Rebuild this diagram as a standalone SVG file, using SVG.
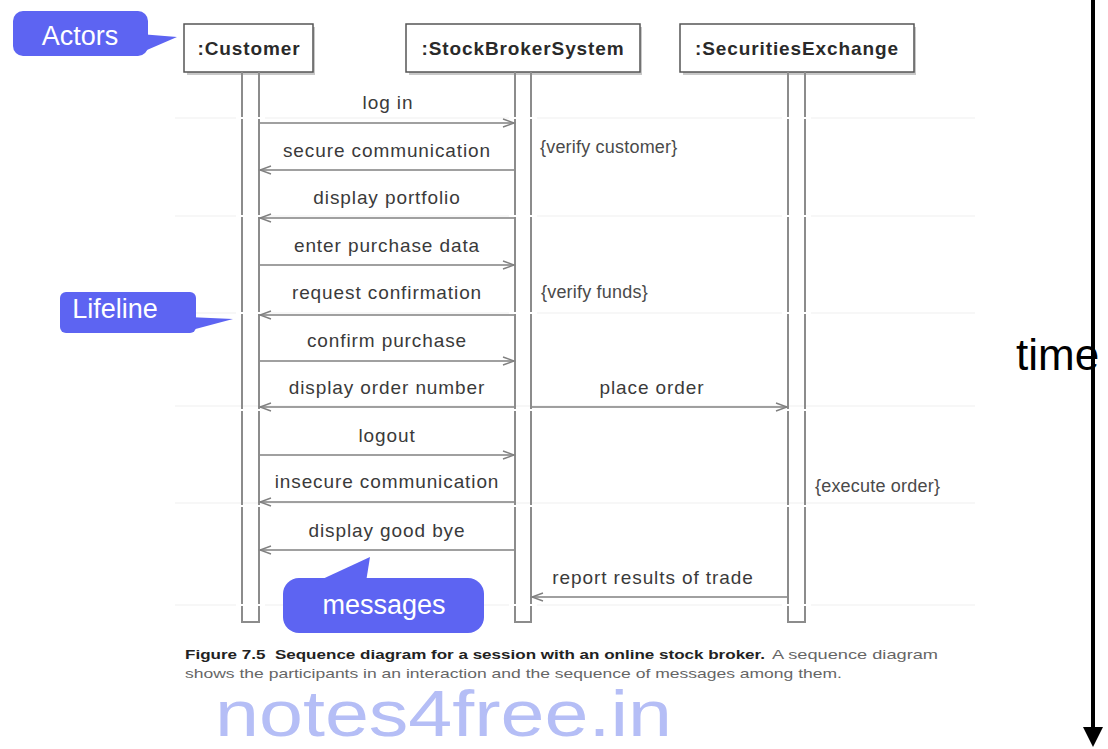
<svg xmlns="http://www.w3.org/2000/svg" width="1108" height="749" viewBox="0 0 1108 749">
<style>
.box{fill:#fff;stroke:#555;stroke-width:1.5}
.shadow{fill:#c8c8c8}
.bt{font-family:"Liberation Sans",Arial,sans-serif;font-size:19px;font-weight:bold;letter-spacing:0.9px;fill:#2a2a2a;text-anchor:middle}
.life{fill:none;stroke:#8c8c8c;stroke-width:2}
.msg{stroke:#808080;stroke-width:1.4;fill:none;marker-end:url(#open)}
.ml{font-family:"Liberation Sans",Arial,sans-serif;font-size:19px;letter-spacing:0.9px;fill:#3a3a3a;text-anchor:middle}
.note{font-family:"Liberation Sans",Arial,sans-serif;font-size:18px;letter-spacing:0.2px;fill:#4a4a4a}
.faint{stroke:#efefef;stroke-width:1}
.gap{stroke:#fff;stroke-width:2}
.call{fill:#5d64f2}
.ct{font-family:"Liberation Sans",Arial,sans-serif;font-size:27px;fill:#fff;text-anchor:middle}
.cap{font-family:"Liberation Sans",Arial,sans-serif;font-size:13.5px}
</style>
<defs>
<marker id="open" markerUnits="userSpaceOnUse" markerWidth="14" markerHeight="12" viewBox="0 0 14 12" refX="12" refY="6" orient="auto">
<path d="M1,2 L12,6 L1,10" fill="none" stroke="#808080" stroke-width="1.4"/>
</marker>
</defs>
<rect width="1108" height="749" fill="#fff"/>

<g id="faint-lines">
<line class="faint" x1="175" y1="118" x2="975" y2="118"/>
<line class="faint" x1="175" y1="216" x2="975" y2="216"/>
<line class="faint" x1="175" y1="313" x2="975" y2="313"/>
<line class="faint" x1="175" y1="406" x2="975" y2="406"/>
<line class="faint" x1="175" y1="503" x2="975" y2="503"/>
<line class="faint" x1="175" y1="605" x2="975" y2="605"/>
</g>

<g id="customer">
<rect class="shadow" x="187" y="27" width="128" height="48"/>
<rect class="box" x="184" y="24" width="129" height="48"/>
<text class="bt" x="249" y="55">:Customer</text>
<path class="life" d="M242,72 V622 H259 V72"/>
</g>
<g id="stockbroker">
<rect class="shadow" x="409" y="27" width="233" height="48"/>
<rect class="box" x="406" y="24" width="234" height="48"/>
<text class="bt" x="523" y="55">:StockBrokerSystem</text>
<path class="life" d="M515,72 V622 H531 V72"/>
</g>
<g id="exchange">
<rect class="shadow" x="683" y="27" width="233" height="48"/>
<rect class="box" x="680" y="24" width="234" height="48"/>
<text class="bt" x="797" y="55">:SecuritiesExchange</text>
<path class="life" d="M788,72 V622 H805 V72"/>
</g>

<g id="gaps">
<line class="gap" x1="236" y1="118" x2="265" y2="118"/>
<line class="gap" x1="509" y1="118" x2="537" y2="118"/>
<line class="gap" x1="782" y1="118" x2="811" y2="118"/>
<line class="gap" x1="236" y1="216" x2="265" y2="216"/>
<line class="gap" x1="509" y1="216" x2="537" y2="216"/>
<line class="gap" x1="782" y1="216" x2="811" y2="216"/>
<line class="gap" x1="236" y1="313" x2="265" y2="313"/>
<line class="gap" x1="509" y1="313" x2="537" y2="313"/>
<line class="gap" x1="782" y1="313" x2="811" y2="313"/>
<line class="gap" x1="236" y1="410" x2="265" y2="410"/>
<line class="gap" x1="509" y1="410" x2="537" y2="410"/>
<line class="gap" x1="782" y1="410" x2="811" y2="410"/>
<line class="gap" x1="236" y1="506" x2="265" y2="506"/>
<line class="gap" x1="509" y1="506" x2="537" y2="506"/>
<line class="gap" x1="782" y1="506" x2="811" y2="506"/>
<line class="gap" x1="236" y1="605" x2="265" y2="605"/>
<line class="gap" x1="509" y1="605" x2="537" y2="605"/>
<line class="gap" x1="782" y1="605" x2="811" y2="605"/>
</g>

<g id="connectors">
<line class="msg" x1="260" y1="123" x2="514" y2="123"/>
<line class="msg" x1="514" y1="170" x2="260" y2="170"/>
<line class="msg" x1="514" y1="218" x2="260" y2="218"/>
<line class="msg" x1="260" y1="265" x2="514" y2="265"/>
<line class="msg" x1="514" y1="315" x2="260" y2="315"/>
<line class="msg" x1="260" y1="361" x2="514" y2="361"/>
<line class="msg" x1="514" y1="407" x2="260" y2="407"/>
<line class="msg" x1="532" y1="407" x2="787" y2="407"/>
<line class="msg" x1="260" y1="455" x2="514" y2="455"/>
<line class="msg" x1="514" y1="502" x2="260" y2="502"/>
<line class="msg" x1="514" y1="550" x2="260" y2="550"/>
<line class="msg" x1="787" y1="597" x2="532" y2="597"/>
</g>

<g id="labels">
<text class="ml" x="388" y="109">log in</text>
<text class="ml" x="387" y="157">secure communication</text>
<text class="ml" x="387" y="204">display portfolio</text>
<text class="ml" x="387" y="252">enter purchase data</text>
<text class="ml" x="387" y="299">request confirmation</text>
<text class="ml" x="387" y="347">confirm purchase</text>
<text class="ml" x="387" y="394">display order number</text>
<text class="ml" x="652" y="394">place order</text>
<text class="ml" x="387" y="442">logout</text>
<text class="ml" x="387" y="488">insecure communication</text>
<text class="ml" x="387" y="537">display good bye</text>
<text class="ml" x="653" y="584">report results of trade</text>
<text class="note" x="540" y="153">{verify customer}</text>
<text class="note" x="541" y="298">{verify funds}</text>
<text class="note" x="815" y="492">{execute order}</text>
</g>

<g id="actors-callout">
<rect class="call" x="13" y="11" width="135" height="45" rx="10"/>
<polygon class="call" points="140,34 177,37 140,53"/>
<text class="ct" x="80" y="45">Actors</text>
</g>
<g id="lifeline-callout">
<rect class="call" x="60" y="292" width="136" height="41" rx="6"/>
<polygon class="call" points="188,317 233,319 188,331"/>
<text class="ct" x="115" y="318">Lifeline</text>
</g>
<g id="messages-callout">
<rect class="call" x="283" y="578" width="201" height="55" rx="16"/>
<polygon class="call" points="316,582 370,557 366,582"/>
<text class="ct" x="384" y="614" font-size="28">messages</text>
</g>

<g id="caption">
<text class="cap" x="185" y="659" font-weight="bold" fill="#222" textLength="580" lengthAdjust="spacingAndGlyphs">Figure 7.5&#160; Sequence diagram for a session with an online stock broker.</text>
<text class="cap" x="772" y="659" fill="#666" textLength="166" lengthAdjust="spacingAndGlyphs">A sequence diagram</text>
<text class="cap" x="185" y="678" fill="#666" textLength="657" lengthAdjust="spacingAndGlyphs">shows the participants in an interaction and the sequence of messages among them.</text>
</g>

<g id="watermark">
<text x="215" y="736" font-family="'Liberation Sans',Arial,sans-serif" font-size="64" fill="#b5bef6" textLength="457" lengthAdjust="spacingAndGlyphs">notes4free.in</text>
</g>

<g id="time">
<text x="1016" y="370" font-family="'Liberation Sans',Arial,sans-serif" font-size="44" fill="#000">time</text>
<line x1="1093" y1="0" x2="1093" y2="730" stroke="#000" stroke-width="4"/>
<polygon points="1083,727 1103,727 1093,747" fill="#000"/>
</g>
</svg>
